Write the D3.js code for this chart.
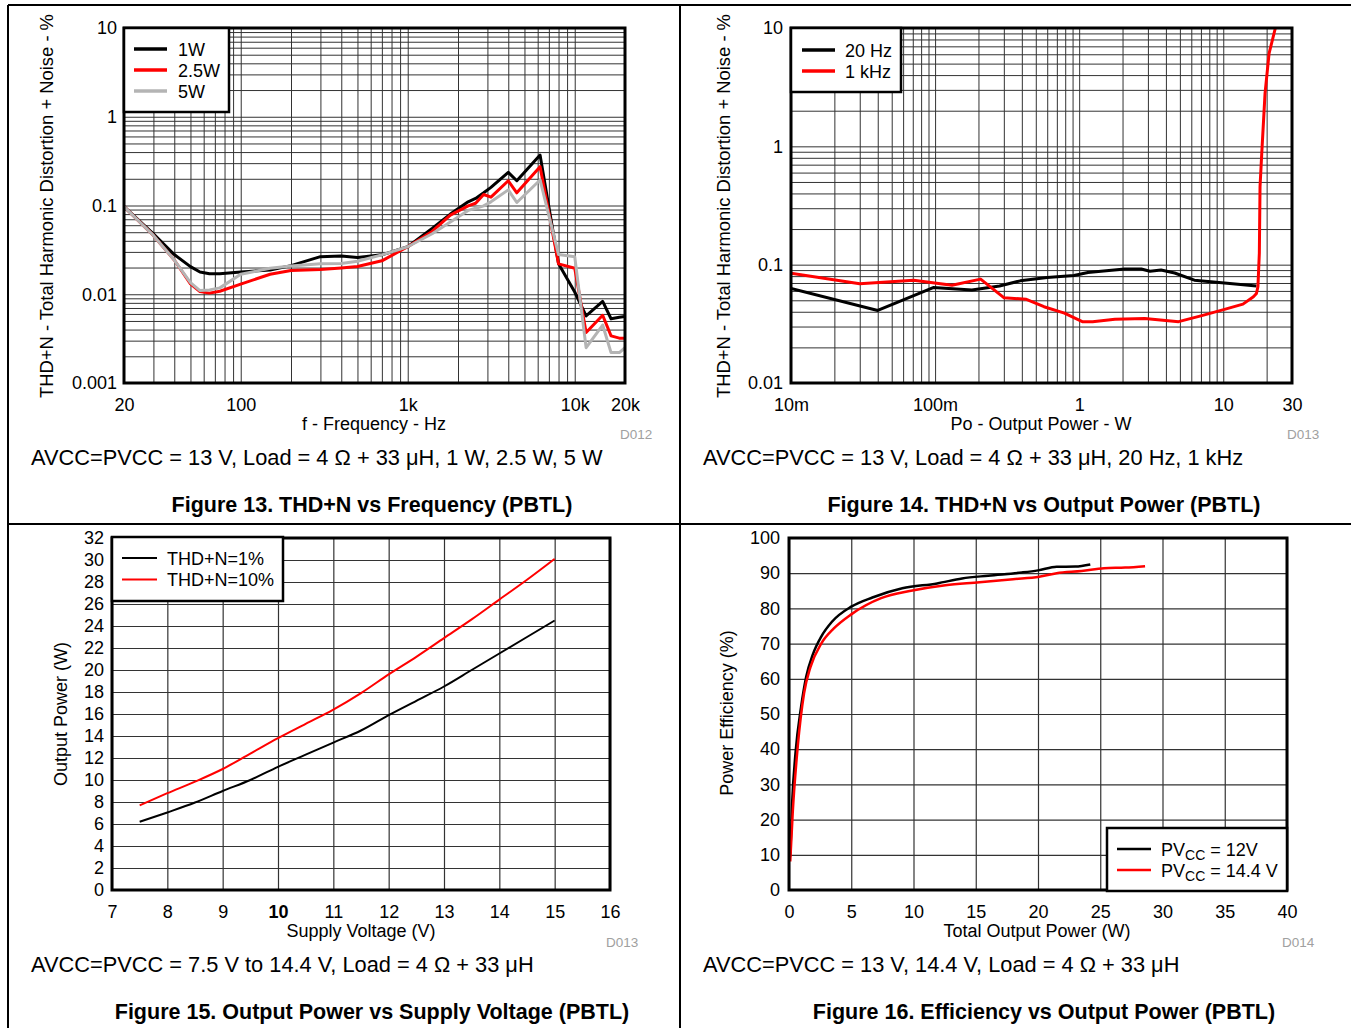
<!DOCTYPE html>
<html><head><meta charset="utf-8">
<script src="https://cdn.jsdelivr.net/npm/d3@7"></script>
<style>
body{margin:0;background:#fff}
svg{display:block}
text{font-family:"Liberation Sans",Arial,Helvetica,sans-serif;fill:#000}
</style>
</head><body>
<svg id="c" width="1351" height="1028"></svg>
<script>
// ---------- Figure 13: THD+N vs Frequency ----------
const f13Freq   = [20,30,40,50,57,65,75,100,150,200,300,400,500,700,1000,1400,1800,2300,2550,2850,3150,4000,4500,6200,8000,10000,11700,14700,16500,18500,20000];
const f13_1W    = [0.097,0.048,0.028,0.0205,0.0178,0.0170,0.0170,0.0178,0.0188,0.021,0.0265,0.027,0.026,0.0278,0.0343,0.055,0.080,0.11,0.12,0.139,0.16,0.236,0.19,0.37,0.022,0.0106,0.0057,0.0083,0.0053,0.0055,0.0056];
const f13_2_5W  = [0.097,0.046,0.0243,0.0131,0.0107,0.0103,0.0108,0.013,0.0168,0.0185,0.019,0.0198,0.0205,0.0238,0.0343,0.051,0.078,0.099,0.106,0.133,0.124,0.19,0.139,0.274,0.022,0.0196,0.0037,0.0058,0.0034,0.0032,0.0032];
const f13_5W    = [0.097,0.046,0.0243,0.0135,0.0110,0.0112,0.0118,0.0168,0.0196,0.0208,0.022,0.0222,0.0235,0.0278,0.0343,0.048,0.065,0.088,0.093,0.099,0.11,0.15,0.108,0.194,0.028,0.0265,0.0025,0.0045,0.0022,0.0022,0.0025];
const f13XTicks = [20,100,1000,10000,20000];
const f13XLabels= ["20","100","1k","10k","20k"];
const f13YTicks = [0.001,0.01,0.1,1,10];
const f13YLabels= ["0.001","0.01","0.1","1","10"];
const f13Legend = ["1W","2.5W","5W"];

// ---------- Figure 14: THD+N vs Output Power ----------
const f14P20    = [0.01,0.04,0.097,0.18,0.28,0.39,0.6,0.92,1.15,2.07,2.7,3.1,3.7,4.6,6.3,10.2,17.0];
const f14V20    = [0.063,0.041,0.064,0.061,0.066,0.073,0.078,0.081,0.086,0.092,0.092,0.088,0.090,0.085,0.074,0.070,0.066];
const f14P1k    = [0.01,0.03,0.071,0.131,0.207,0.30,0.43,0.57,0.79,1.06,1.24,1.77,2.85,4.9,7.1,10.2,13.7,16.2,17.0,17.4,17.8,18.0,18.5,19.5,20.8,23.0];
const f14V1k    = [0.0845,0.069,0.0737,0.067,0.0755,0.0526,0.051,0.0441,0.0389,0.0329,0.033,0.0345,0.035,0.033,0.0371,0.0419,0.0464,0.0536,0.057,0.065,0.125,0.456,0.873,2.8,6.1,10];
const f14XTicks = [0.01,0.1,1,10,30];
const f14XLabels= ["10m","100m","1","10","30"];
const f14YTicks = [0.01,0.1,1,10];
const f14YLabels= ["0.01","0.1","1","10"];
const f14Legend = ["20 Hz","1 kHz"];

// ---------- Figure 15: Output Power vs Supply Voltage ----------
const f15Volt   = [7.5,8,8.5,9,9.5,10,10.5,11,11.5,12,12.5,13,13.5,14,14.5,15];
const f15P1     = [6.2,7.05,7.95,9.0,10.0,11.2,12.3,13.4,14.5,15.9,17.2,18.5,20.0,21.5,23.0,24.5];
const f15P10    = [7.7,8.8,9.85,11.0,12.4,13.8,15.1,16.4,17.9,19.6,21.2,22.9,24.6,26.4,28.2,30.1];
const f15XTicks = [7,8,9,10,11,12,13,14,15,16];
const f15YTicks = [0,2,4,6,8,10,12,14,16,18,20,22,24,26,28,30,32];
const f15Legend = ["THD+N=1%","THD+N=10%"];

// ---------- Figure 16: Efficiency vs Output Power ----------
const f16W12    = [0.1,0.25,0.52,0.97,1.38,1.9,2.59,3.45,5.0,6.7,9.1,11.9,13.9,16,18.7,20,21.5,23,24.2];
const f16E12    = [9.5,24.6,38.8,52,60.6,66.8,72,76.2,80.5,83.1,85.7,87.1,88.5,89.3,90.2,90.8,91.8,91.9,92.5];
const f16W144   = [0.1,0.3,0.7,1.21,1.73,2.59,3.6,5.0,7.4,9.8,12.56,15.3,18,20.1,21.5,23.5,25.3,27,28.6];
const f16E144   = [8.1,22,40.7,55.9,63.4,70,74.3,78.3,82.9,85,86.6,87.4,88.3,89,90,90.6,91.4,91.6,92];
const f16XTicks = [0,5,10,15,20,25,30,35,40];
const f16YTicks = [0,10,20,30,40,50,60,70,80,90,100];
const f16Legend = [["PV","CC"," = 12V"],["PV","CC"," = 14.4 V"]];

const svg = d3.select("#c");
const FONT = "18px";

// page frame
const frame = svg.append("g").attr("stroke","#000").attr("stroke-width",2);
frame.append("line").attr("x1",8).attr("y1",5).attr("x2",1351).attr("y2",5);
frame.append("line").attr("x1",8).attr("y1",5).attr("x2",8).attr("y2",1028);
frame.append("line").attr("x1",680).attr("y1",5).attr("x2",680).attr("y2",1028);
frame.append("line").attr("x1",8).attr("y1",524).attr("x2",1351).attr("y2",524);

let clipId = 0;
function panel(o){
  const g = svg.append("g");
  const x = o.x, y = o.y;
  const L = x.range()[0], R = x.range()[1], B = y.range()[0], T = y.range()[1];
  // grid
  const gx = g.append("g").attr("transform",`translate(0,${B})`)
    .call(d3.axisBottom(x).tickValues(o.xGrid).tickSize(-(B-T)).tickFormat(""));
  gx.select(".domain").remove();
  gx.selectAll("line").attr("stroke",o.gridColor).attr("stroke-width",o.gridW);
  const gy = g.append("g").attr("transform",`translate(${L},0)`)
    .call(d3.axisLeft(y).tickValues(o.yGrid).tickSize(-(R-L)).tickFormat(""));
  gy.select(".domain").remove();
  gy.selectAll("line").attr("stroke",o.gridColor).attr("stroke-width",o.gridW);

  // series
  const id = "clip"+(clipId++);
  g.append("clipPath").attr("id",id).append("rect").attr("x",L).attr("y",T).attr("width",R-L).attr("height",B-T);
  o.series.forEach(s=>{
    const pts = s.xs.map((v,i)=>[v,s.ys[i]]);
    g.append("path").datum(pts).attr("clip-path",`url(#${id})`)
      .attr("fill","none").attr("stroke",s.color).attr("stroke-width",s.w)
      .attr("stroke-linejoin","round")
      .attr("d",d3.line().x(d=>x(d[0])).y(d=>y(d[1])).curve(o.curve||d3.curveLinear));
  });

  // frame
  g.append("rect").attr("x",L).attr("y",T).attr("width",R-L).attr("height",B-T)
    .attr("fill","none").attr("stroke","#000").attr("stroke-width",3);

  // tick labels
  const ax = g.append("g").attr("transform",`translate(0,${B})`)
    .call(d3.axisBottom(x).tickValues(o.xTicks).tickSize(0).tickPadding(o.xPad)
      .tickFormat((d,i)=>o.xLabels?o.xLabels[i]:d));
  ax.select(".domain").remove();
  ax.selectAll("text").style("font-size",FONT).attr("fill","#000");
  if(o.boldX!==undefined) ax.selectAll("text").filter(d=>d===o.boldX).style("font-weight","bold");
  const ay = g.append("g").attr("transform",`translate(${L},0)`)
    .call(d3.axisLeft(y).tickValues(o.yTicks).tickSize(0).tickPadding(o.yPad)
      .tickFormat((d,i)=>o.yLabels?o.yLabels[i]:d));
  ay.select(".domain").remove();
  ay.selectAll("text").style("font-size",FONT).attr("fill","#000");

  // axis titles
  g.append("text").attr("x",o.xTitle[1]).attr("y",o.xTitle[2]).attr("text-anchor","middle")
    .style("font-size",FONT).text(o.xTitle[0]);
  g.append("text").attr("transform",`translate(${o.yTitle[1]},${o.yTitle[2]}) rotate(-90)`)
    .attr("text-anchor","middle").style("font-size",o.yTitle[3]||FONT).text(o.yTitle[0]);

  // code
  g.append("text").attr("x",o.code[1]).attr("y",o.code[2]).style("font-size","13.5px")
    .style("fill","#a0a0a0").text(o.code[0]);
  // caption
  g.append("text").attr("x",o.caption[1]).attr("y",o.caption[2]).style("font-size","21.8px").text(o.caption[0]);
  // title
  g.append("text").attr("x",o.title[1]).attr("y",o.title[2]).attr("text-anchor","middle")
    .style("font-size","21.5px").style("font-weight","bold").text(o.title[0]);

  // legend
  const lg = o.legend;
  g.append("rect").attr("x",lg.box[0]).attr("y",lg.box[1]).attr("width",lg.box[2]-lg.box[0]).attr("height",lg.box[3]-lg.box[1])
    .attr("fill","#fff").attr("stroke","#000").attr("stroke-width",2.5);
  lg.items.forEach((it,i)=>{
    const yy = lg.y0 + i*lg.dy;
    g.append("line").attr("x1",lg.x1).attr("x2",lg.x2).attr("y1",yy).attr("y2",yy)
      .attr("stroke",o.series[i].color).attr("stroke-width",lg.w);
    const t = g.append("text").attr("x",lg.tx).attr("y",yy+6.5).style("font-size",FONT);
    if(Array.isArray(it)){
      t.append("tspan").text(it[0]);
      t.append("tspan").attr("dy",4).style("font-size","14px").text(it[1]);
      t.append("tspan").attr("dy",-4).text(it[2]);
    } else t.text(it);
  });
}

const logGrid = (a,b)=>d3.scaleLog().domain([a,b]).ticks();

// Figure 13
panel({
  x: d3.scaleLog().domain([20,20000]).range([124,625]),
  y: d3.scaleLog().domain([0.001,10]).range([383,28]),
  xGrid: logGrid(20,20000), yGrid: logGrid(0.001,10), gridColor:"#333", gridW:1,
  xTicks: f13XTicks, xLabels: f13XLabels, yTicks: f13YTicks, yLabels: f13YLabels,
  xPad: 15, yPad: 7,
  series: [
    {xs:f13Freq, ys:f13_1W, color:"#000", w:3},
    {xs:f13Freq, ys:f13_2_5W, color:"#ff0000", w:3},
    {xs:f13Freq, ys:f13_5W, color:"#b4b4b4", w:3}
  ],
  xTitle: ["f - Frequency - Hz",374,430],
  yTitle: ["THD+N - Total Harmonic Distortion + Noise - %",53,206,"18.4px"],
  code: ["D012",620,439],
  caption: ["AVCC=PVCC = 13 V, Load = 4 Ω + 33 μH, 1 W, 2.5 W, 5 W",31,465],
  title: ["Figure 13. THD+N vs Frequency (PBTL)",372,512],
  legend: {box:[124,28,229,112], items:f13Legend, x1:134, x2:167, y0:49, dy:21, tx:178, w:3.5}
});

// Figure 14
panel({
  x: d3.scaleLog().domain([0.01,30]).range([791,1292]),
  y: d3.scaleLog().domain([0.01,10]).range([383,28]),
  xGrid: logGrid(0.01,30), yGrid: logGrid(0.01,10), gridColor:"#333", gridW:1,
  xTicks: f14XTicks, xLabels: f14XLabels, yTicks: f14YTicks, yLabels: f14YLabels,
  xPad: 15, yPad: 8,
  series: [
    {xs:f14P20, ys:f14V20, color:"#000", w:3},
    {xs:f14P1k, ys:f14V1k, color:"#ff0000", w:3}
  ],
  xTitle: ["Po - Output Power - W",1041,430],
  yTitle: ["THD+N - Total Harmonic Distortion + Noise - %",730,206,"18.4px"],
  code: ["D013",1287,439],
  caption: ["AVCC=PVCC = 13 V, Load = 4 Ω + 33 μH, 20 Hz, 1 kHz",703,465],
  title: ["Figure 14. THD+N vs Output Power (PBTL)",1044,512],
  legend: {box:[791,28,901,92], items:f14Legend, x1:802, x2:835, y0:50, dy:21, tx:845, w:3.5}
});

// Figure 15
panel({
  x: d3.scaleLinear().domain([7,16]).range([112,610]),
  y: d3.scaleLinear().domain([0,32]).range([890,538]),
  xGrid: f15XTicks, yGrid: f15YTicks, gridColor:"#333", gridW:1.2,
  xTicks: f15XTicks, yTicks: f15YTicks, boldX: 10,
  xPad: 15, yPad: 8,
  curve: d3.curveMonotoneX,
  series: [
    {xs:f15Volt, ys:f15P1, color:"#000", w:2},
    {xs:f15Volt, ys:f15P10, color:"#ff0000", w:2}
  ],
  xTitle: ["Supply Voltage (V)",361,937],
  yTitle: ["Output Power (W)",67,714],
  code: ["D013",606,947],
  caption: ["AVCC=PVCC = 7.5 V to 14.4 V, Load = 4 Ω + 33 μH",31,972],
  title: ["Figure 15. Output Power vs Supply Voltage (PBTL)",372,1019],
  legend: {box:[112,537,283,601], items:f15Legend, x1:122, x2:157, y0:558, dy:21.5, tx:167, w:2}
});

// Figure 16
panel({
  x: d3.scaleLinear().domain([0,40]).range([789,1287]),
  y: d3.scaleLinear().domain([0,100]).range([890,538]),
  xGrid: f16XTicks, yGrid: f16YTicks, gridColor:"#333", gridW:1.2,
  xTicks: f16XTicks, yTicks: f16YTicks,
  xPad: 15, yPad: 9,
  curve: d3.curveMonotoneX,
  series: [
    {xs:f16W12, ys:f16E12, color:"#000", w:2.5},
    {xs:f16W144, ys:f16E144, color:"#ff0000", w:2.5}
  ],
  xTitle: ["Total Output Power (W)",1037,937],
  yTitle: ["Power Efficiency (%)",733,713],
  code: ["D014",1282,947],
  caption: ["AVCC=PVCC = 13 V, 14.4 V, Load = 4 Ω + 33 μH",703,972],
  title: ["Figure 16. Efficiency vs Output Power (PBTL)",1044,1019],
  legend: {box:[1107,828,1287,891], items:f16Legend, x1:1117, x2:1151, y0:849, dy:21, tx:1161, w:2.7}
});
</script>
</body></html>
